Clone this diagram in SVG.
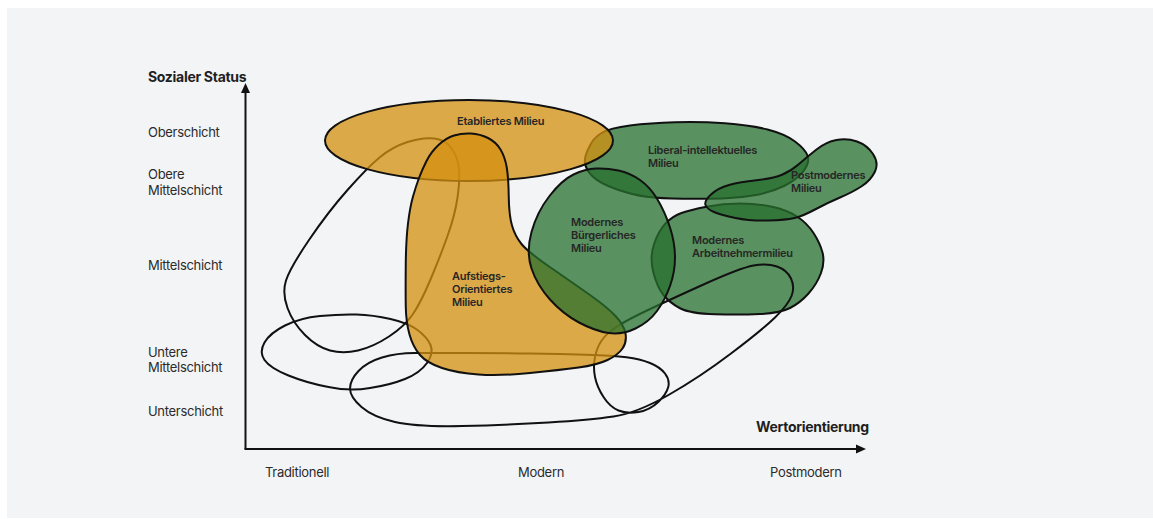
<svg xmlns="http://www.w3.org/2000/svg" width="1153" height="519" viewBox="0 0 1153 519">
<style>
.ax{font-family:Inter,"Liberation Sans",sans-serif;font-size:14px;font-weight:700;fill:#1f1f1f;letter-spacing:-0.3px}
.tk{font-family:Inter,"Liberation Sans",sans-serif;font-size:13px;font-weight:400;fill:#2b2b2b;letter-spacing:-0.3px}
.lb{font-family:Inter,"Liberation Sans",sans-serif;font-size:11px;font-weight:600;fill:#262626;letter-spacing:-0.25px}
.open{fill:none;stroke:#111;stroke-width:2}
.or{fill:#d4900f;fill-opacity:0.75;stroke:#111;stroke-width:2}
.gr{fill:#27702d;fill-opacity:0.75;stroke:#111;stroke-width:2}
.axis{stroke:#111;stroke-width:2;fill:none}
</style>
<rect x="0" y="0" width="1153" height="519" fill="#ffffff"/>
<rect x="7" y="8" width="1146" height="510" fill="#f3f4f6"/>

<g id="axis-labels">
<text class="ax" x="148" y="82">Sozialer Status</text>
<text class="tk" x="148" y="137">Oberschicht</text>
<text class="tk" x="148" y="178.5">Obere</text>
<text class="tk" x="148" y="194.5">Mittelschicht</text>
<text class="tk" x="148" y="270">Mittelschicht</text>
<text class="tk" x="148" y="356.5">Untere</text>
<text class="tk" x="148" y="372">Mittelschicht</text>
<text class="tk" x="148" y="416">Unterschicht</text>
<text class="tk" x="265" y="477">Traditionell</text>
<text class="tk" x="518" y="477">Modern</text>
<text class="tk" x="770" y="477">Postmodern</text>
<text class="ax" x="756" y="432">Wertorientierung</text>
</g>

<g id="shape-a">
<path class="open" d="M 434.5,138.5 Q 446,140 452,149 Q 458,158 459,169 Q 460,180 457.5,197.5 Q 455,215 447.5,236 Q 440,257 430.5,279.5 Q 421,302 413,314 Q 405,326 389,336.5 Q 373,347 358,350.5 Q 343,354 330,350.5 Q 317,347 305,335 Q 293,323 287.5,308 Q 282,293 286,280.5 Q 290,268 309,240 Q 328,212 347.5,190 Q 367,168 379.5,157.5 Q 392,147 407.5,142 Q 423,137 434.5,138.5 Z"/>
</g>

<g id="shape-b">
<path class="open" d="M 356.5,314.5 Q 373,315 390.5,319 Q 408,323 417.5,330 Q 427,337 430.5,345 Q 434,353 427,363 Q 420,373 405,379 Q 390,385 370,388 Q 350,391.5 328.5,387 Q 307,383 288.5,375.5 Q 270,368 264.5,360 Q 259,352 264.5,342.5 Q 270,333 285,325.5 Q 300,318 320,316 Q 340,314 356.5,314.5 Z"/>
</g>

<g id="liberal-intellektuelles">
<path class="gr" d="M 589,147.5 Q 593,138 601.5,133 Q 610,128 630,125.5 Q 650,123 675,122.25 Q 700,121.5 725,123.25 Q 750,125 767.5,129.5 Q 785,134 795,141.5 Q 805,149 807.5,155.5 Q 810,162 804,170.5 Q 798,179 785,185.5 Q 772,192 756,195 Q 740,198 722.5,198.5 Q 705,199 682.5,198.75 Q 660,198.5 646.5,196.75 Q 633,195 616.5,189.25 Q 600,183.5 593,176.75 Q 586,170 585,163.5 Q 584,157 589,147.5 Z"/>
<text class="lb" x="648" y="154.3">Liberal-intellektuelles</text>
<text class="lb" x="648" y="167.3">Milieu</text>
</g>

<g id="modernes-arbeitnehmermilieu">
<path class="gr" d="M 706.5,206.75 Q 723,203.5 740,203.5 Q 757,203.5 772,206.75 Q 787,210 797,216.5 Q 807,223 813.5,233 Q 820,243 822.5,252.5 Q 825,262 821,273 Q 817,284 808.5,293.5 Q 800,303 790,308 Q 780,313 760,314 Q 740,315 715,314.25 Q 690,313.5 680,308.25 Q 670,303 663.5,295 Q 657,287 653.25,272 Q 649.5,257 654.25,243.5 Q 659,230 666,223 Q 673,216 681.5,213 Q 690,210 706.5,206.75 Z"/>
<text class="lb" x="692" y="243.7">Modernes</text>
<text class="lb" x="692" y="257">Arbeitnehmermilieu</text>
</g>

<g id="shape-c">
<path class="open" d="M 466,353 Q 500,353 530,353.5 Q 560,354 586.5,354.75 Q 613,355.5 626.5,357.25 Q 640,359 650,363 Q 660,367 665,373.5 Q 670,380 668.25,387 Q 666.5,394 658.25,402 Q 650,410 638.5,412 Q 627,414 618.5,410.5 Q 610,407 603.5,397 Q 597,387 595,377 Q 593,367 595,357 Q 597,347 602,340 Q 607,333 617,326.5 Q 627,320 647,310.5 Q 667,301 703.5,284.5 Q 740,268 753.5,265.5 Q 767,263 777,266.5 Q 787,270 791,278.5 Q 795,287 791.5,296 Q 788,305 775,317.5 Q 762,330 731,353.5 Q 700,377 668.5,395 Q 637,413 613.5,416.5 Q 590,420 548.5,422.5 Q 507,425 462,426 Q 417,427 395,422 Q 373,417 361.5,407 Q 350,397 350,388.5 Q 350,380 358.5,371 Q 367,362 382,357.5 Q 397,353 414.5,353 Q 432,353 466,353 Z"/>
</g>

<g id="etabliertes-milieu">
<ellipse class="or" cx="469" cy="140.5" rx="144" ry="40.5"/>
<text class="lb" x="457" y="124.5">Etabliertes Milieu</text>
</g>

<g id="aufstiegs-orientiertes-milieu">
<path class="or" d="M 438.5,145 Q 446,138 454,135.5 Q 462,133 471,133.5 Q 480,134 488,138 Q 496,142 500.5,149.5 Q 505,157 506.75,167.5 Q 508.5,178 508.75,196.5 Q 509,215 512,225.5 Q 515,236 521.5,244 Q 528,252 550.5,267.5 Q 573,283 590,295 Q 607,307 615.5,316 Q 624,325 625.5,333.5 Q 627,342 622.5,348.5 Q 618,355 607.5,360 Q 597,365 578.5,367.5 Q 560,370 530,373 Q 500,376 478.5,374.5 Q 457,373 442,368 Q 427,363 420,355 Q 413,347 409.5,334.5 Q 406,322 405.75,306 Q 405.5,290 405.75,265 Q 406,240 408,223.5 Q 410,207 413,196.5 Q 416,186 419,178 Q 422,170 426.5,161 Q 431,152 438.5,145 Z"/>
<text class="lb" x="452" y="280">Aufstiegs-</text>
<text class="lb" x="452" y="293.3">Orientiertes</text>
<text class="lb" x="452" y="306">Milieu</text>
</g>

<g id="modernes-buergerliches-milieu">
<path class="gr" d="M 618.5,170.5 Q 630,173 640,180 Q 650,187 657.5,199.5 Q 665,212 670,227.5 Q 675,243 675,257.5 Q 675,272 670,286 Q 665,300 657,311 Q 649,322 635.5,328.5 Q 622,335 608.5,333 Q 595,331 579,322.5 Q 563,314 550,299.5 Q 537,285 531.5,268.5 Q 526,252 531.5,232 Q 537,212 549.5,196 Q 562,180 573.5,174.5 Q 585,169 596,168.5 Q 607,168 618.5,170.5 Z"/>
<text class="lb" x="571" y="225.7">Modernes</text>
<text class="lb" x="571" y="239">Bürgerliches</text>
<text class="lb" x="571" y="252.3">Milieu</text>
</g>

<g id="postmodernes-milieu">
<path class="gr" d="M 711,194.5 Q 718,188 729,185 Q 740,182 756.5,180.25 Q 773,178.5 782,174.75 Q 791,171 799,164 Q 807,157 816.5,149.5 Q 826,142 836.5,140 Q 847,138 857,141.5 Q 867,145 873,154 Q 879,163 875,171.5 Q 871,180 862,186 Q 853,192 840,197.5 Q 827,203 815,209.5 Q 803,216 794.5,218 Q 786,220 768,220.5 Q 750,221 735.5,218 Q 721,215 714,212 Q 707,209 705.5,205 Q 704,201 711,194.5 Z"/>
<text class="lb" x="791" y="178.7">Postmodernes</text>
<text class="lb" x="791" y="192">Milieu</text>
</g>

<g id="connectors">
<line class="axis" x1="245.5" y1="449" x2="245.5" y2="91"/>
<polygon points="245.5,83 241,93 250,93" fill="#111"/>
<line class="axis" x1="244.5" y1="449" x2="858" y2="449"/>
<polygon points="866,449 856,444.5 856,453.5" fill="#111"/>
</g>
</svg>
